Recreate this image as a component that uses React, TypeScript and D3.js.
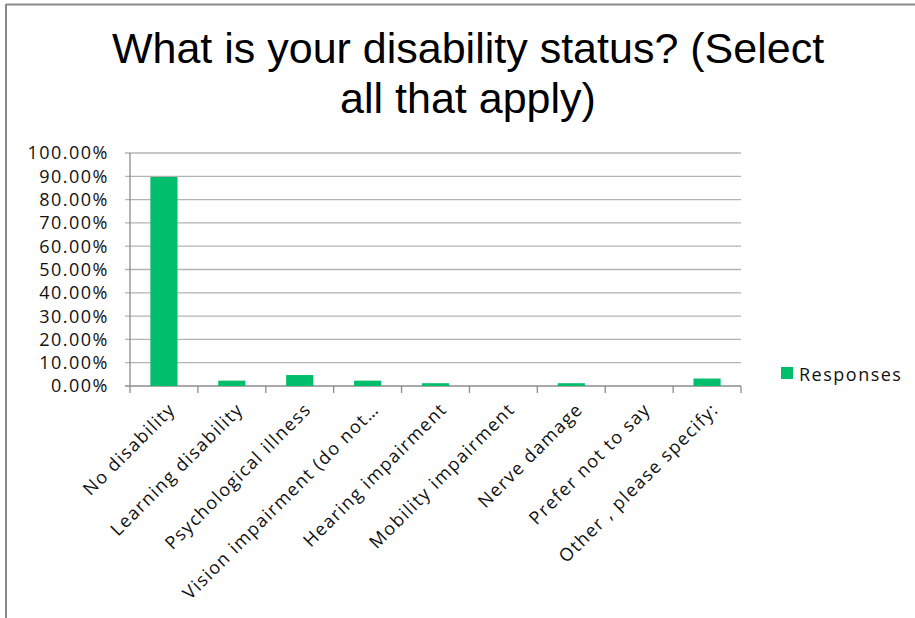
import React from "react";
import * as d3 from "d3";

const categories = [
  "No disability",
  "Learning disability",
  "Psychological illness",
  "Vision impairment (do not…",
  "Hearing impairment",
  "Mobility impairment",
  "Nerve damage",
  "Prefer not to say",
  "Other , please specify:",
];
const responses = [0.897, 0.023, 0.047, 0.023, 0.012, 0, 0.012, 0, 0.032];
const yTicks = [0, 0.1, 0.2, 0.3, 0.4, 0.5, 0.6, 0.7, 0.8, 0.9, 1.0];
const titleLines = ["What is your disability status? (Select", "all that apply)"];
const seriesName = "Responses";

const W = 915;
const H = 618;
const plot = { left: 130, right: 741, top: 153, bottom: 386 };
const BAR = "#00BE6C";
const LABEL_FONT = "Open Sans, sans-serif";

export default function App() {
  const x = d3
    .scaleBand<string>()
    .domain(categories)
    .range([plot.left, plot.right])
    .paddingInner(0.6)
    .paddingOuter(0.3);
  const xb = d3.scaleBand<string>().domain(categories).range([plot.left, plot.right]);
  const y = d3.scaleLinear().domain([0, 1]).range([plot.bottom, plot.top]);
  const fmt = d3.format(".2%");
  const boundaries = d3.range(categories.length + 1).map((i) => plot.left + i * xb.step());

  return (
    <svg
      width={W}
      height={H}
      style={{ position: "fixed", left: 0, top: 0, background: "#fff" }}
    >
      <rect x={0} y={0} width={W} height={H} fill="#fff" />
      <line x1={6} x2={W} y1={4.5} y2={4.5} stroke="#8a8a8a" strokeWidth={2} />
      <line x1={6} x2={6} y1={4} y2={H} stroke="#8a8a8a" strokeWidth={2} />

      {titleLines.map((t, i) => (
        <text
          key={i}
          x={468}
          y={63 + i * 50}
          textAnchor="middle"
          fontFamily="Liberation Sans, Arial, sans-serif"
          fontSize={43}
          fill="#000"
        >
          {t}
        </text>
      ))}

      {yTicks.map((t) => (
        <g key={t}>
          <line
            x1={plot.left - 5}
            x2={plot.right}
            y1={y(t)}
            y2={y(t)}
            stroke={t === 0 ? "#8c8c8c" : "#b3b3b3"}
            strokeWidth={1.3}
          />
          <text
            x={109}
            y={y(t)}
            dy="0.36em"
            textAnchor="end"
            fontFamily={LABEL_FONT}
            fontSize={18}
            letterSpacing={1.5}
            fill="#111"
          >
            {fmt(t)}
          </text>
        </g>
      ))}
      <line x1={plot.left} x2={plot.left} y1={plot.top} y2={plot.bottom} stroke="#8c8c8c" strokeWidth={1.3} />
      {boundaries.map((b, i) => (
        <line key={i} x1={b} x2={b} y1={plot.bottom} y2={plot.bottom + 7} stroke="#8c8c8c" strokeWidth={1.3} />
      ))}

      {categories.map((c, i) => (
        <rect
          key={c}
          x={x(c)}
          y={y(responses[i])}
          width={x.bandwidth()}
          height={plot.bottom - y(responses[i])}
          fill={BAR}
        />
      ))}

      {categories.map((c) => {
        const cx = (xb(c) as number) + xb.bandwidth() / 2;
        return (
          <text
            key={c}
            transform={`translate(${cx + 3},${plot.bottom + 15}) rotate(-45)`}
            textAnchor="end"
            dy="0.75em"
            fontFamily={LABEL_FONT}
            fontSize={18}
            letterSpacing={1.4}
            fill="#111"
          >
            {c}
          </text>
        );
      })}

      <rect x={781} y={367} width={12} height={12} fill={BAR} />
      <text x={799} y={381} fontFamily={LABEL_FONT} fontSize={18} letterSpacing={1.5} fill="#111">
        {seriesName}
      </text>
    </svg>
  );
}
